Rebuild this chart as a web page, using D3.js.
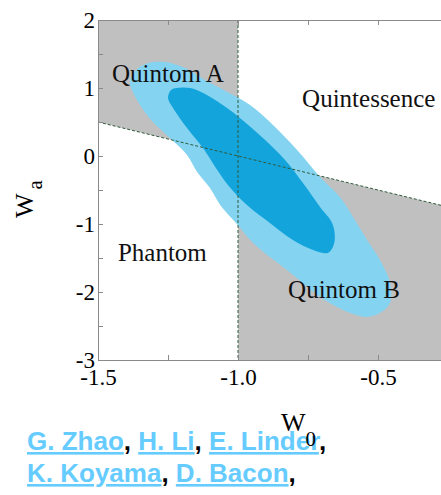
<!DOCTYPE html>
<html>
<head>
<meta charset="utf-8">
<script src="https://cdn.jsdelivr.net/npm/d3@7"></script>
<style>
  html, body { margin: 0; padding: 0; background: #fff; }
  svg { display: block; }
</style>
</head>
<body>
<svg id="chart" width="441" height="495"></svg>
<script>
// Axis ranges (w0 horizontal, wa vertical)
const w0Domain = [-1.5, -0.2];
const waDomain = [-3, 2];
const w0Ticks = [-1.5, -1.25, -1.0, -0.75, -0.5, -0.25];
const w0Labels = [-1.5, -1.0, -0.5];
const waTicks = [-3, -2.5, -2, -1.5, -1, -0.5, 0, 0.5, 1, 1.5, 2];
const waLabels = [-3, -2, -1, 0, 1, 2];

// 95% confidence contour (w0, wa)
const outer95 = [
  [-1.386, 1.088], [-1.364, 1.265], [-1.321, 1.368], [-1.261, 1.382],
  [-1.189, 1.294], [-1.118, 1.118], [-1.018, 0.897], [-0.957, 0.750],
  [-0.886, 0.500], [-0.789, 0.088], [-0.707, -0.309], [-0.636, -0.603],
  [-0.589, -0.897], [-0.539, -1.235], [-0.493, -1.529], [-0.457, -1.868],
  [-0.457, -2.162], [-0.493, -2.309], [-0.539, -2.368], [-0.589, -2.324],
  [-0.646, -2.221], [-0.707, -2.074], [-0.768, -1.868], [-0.825, -1.676],
  [-0.886, -1.485], [-0.946, -1.279], [-1.004, -1.000], [-1.061, -0.735],
  [-1.100, -0.471], [-1.146, -0.235], [-1.182, 0.015], [-1.243, 0.265],
  [-1.304, 0.500], [-1.350, 0.750]
];

// 68% confidence contour (w0, wa)
const inner68 = [
  [-1.250, 0.853], [-1.239, 0.971], [-1.218, 1.000], [-1.171, 1.000],
  [-1.111, 0.897], [-1.039, 0.706], [-0.993, 0.559], [-0.911, 0.265],
  [-0.832, -0.059], [-0.768, -0.397], [-0.707, -0.750], [-0.664, -0.985],
  [-0.654, -1.191], [-0.661, -1.338], [-0.679, -1.426], [-0.732, -1.382],
  [-0.804, -1.235], [-0.886, -0.985], [-0.968, -0.721], [-1.036, -0.426],
  [-1.079, -0.176], [-1.125, 0.118], [-1.182, 0.412], [-1.232, 0.706]
];

// Region names and their anchor points (w0, wa)
const regionNames = ["Quintom A", "Quintessence", "Phantom", "Quintom B"];
const regionAnchors = [[-1.45, 1.088], [-0.771, 0.72], [-1.429, -1.544], [-0.821, -2.088]];

// Author credits
const authorLines = [
  ["G. Zhao", "H. Li", "E. Linder"],
  ["K. Koyama", "D. Bacon"]
];

const svg = d3.select("#chart");
const x = d3.scaleLinear().domain(w0Domain).range([98, 98 + 1.3 * 280]);
const y = d3.scaleLinear().domain(waDomain).range([360, 20]);

// Phantom-divide crossing line: w0 + wa = -1
const divide = w => -1 - w;

// Author credits (drawn first so the axis label sits above them)
const credits = svg.append("g")
  .attr("font-family", "'Liberation Sans', Arial, sans-serif")
  .attr("font-weight", "bold")
  .attr("font-size", 26);
authorLines.forEach((names, i) => {
  const t = credits.append("text").attr("x", 27).attr("y", 450 + i * 32);
  names.forEach((n) => {
    t.append("tspan").attr("fill", "#66ccff").attr("text-decoration", "underline").text(n);
    t.append("tspan").attr("fill", "#000").text(",");
    t.append("tspan").text(" ");
  });
});

const plot = svg.append("g");
plot.append("clipPath").attr("id", "clip")
  .append("rect").attr("x", x(w0Domain[0])).attr("y", y(waDomain[1]))
  .attr("width", x(w0Domain[1]) - x(w0Domain[0])).attr("height", y(waDomain[0]) - y(waDomain[1]));

const area = plot.append("g").attr("clip-path", "url(#clip)");
const poly = d3.line().x(d => x(d[0])).y(d => y(d[1]));

// Quintom A: w0 < -1 with wa above the divide
const quintomA = [[w0Domain[0], waDomain[1]], [-1, waDomain[1]], [-1, divide(-1)], [w0Domain[0], divide(w0Domain[0])]];
// Quintom B: w0 > -1 with wa below the divide
const quintomB = [[-1, divide(-1)], [-1, waDomain[0]], [w0Domain[1], waDomain[0]], [w0Domain[1], divide(w0Domain[1])]];
[quintomA, quintomB].forEach(p => area.append("path").attr("d", poly(p) + "Z").attr("fill", "#c0c0c0"));

// Confidence contours
const contour = d3.line().x(d => x(d[0])).y(d => y(d[1])).curve(d3.curveCatmullRomClosed.alpha(0.5));
area.append("path").attr("d", contour(outer95)).attr("fill", "#84d3f1");
area.append("path").attr("d", contour(inner68)).attr("fill", "#14a4dc");

// Dashed boundaries
area.append("line")
  .attr("x1", x(-1)).attr("x2", x(-1)).attr("y1", y(waDomain[1])).attr("y2", y(waDomain[0]))
  .attr("stroke", "#2f5a3c").attr("stroke-width", 1).attr("stroke-dasharray", "3,2");
area.append("line")
  .attr("x1", x(w0Domain[0])).attr("y1", y(divide(w0Domain[0])))
  .attr("x2", x(w0Domain[1])).attr("y2", y(divide(w0Domain[1])))
  .attr("stroke", "#2f5a3c").attr("stroke-width", 1).attr("stroke-dasharray", "3,2");

// Axes
const serif = "'Liberation Serif', 'Times New Roman', serif";
const styleAxis = g => {
  g.attr("font-family", serif);
  g.select(".domain").attr("stroke", "#8a8a8a");
  g.selectAll(".tick line").attr("stroke", "#8a8a8a");
  g.selectAll("text").attr("font-family", serif).attr("font-size", 23).attr("fill", "#000");
};
plot.append("g").attr("transform", `translate(0,${y(waDomain[0])})`)
  .call(d3.axisBottom(x).tickValues(w0Ticks).tickSize(-5).tickSizeOuter(0).tickPadding(9)
    .tickFormat(d => w0Labels.includes(d) ? d.toFixed(1) : ""))
  .call(styleAxis);
plot.append("g").attr("transform", `translate(0,${y(waDomain[1])})`)
  .call(d3.axisTop(x).tickValues(w0Ticks).tickSize(-5).tickSizeOuter(0).tickFormat(""))
  .call(styleAxis);
plot.append("g").attr("transform", `translate(${x(w0Domain[0])},0)`)
  .call(d3.axisLeft(y).tickValues(waTicks).tickSize(-5).tickSizeOuter(0).tickPadding(3)
    .tickFormat(d => waLabels.includes(d) ? String(d) : ""))
  .call(styleAxis);

// Region names
plot.append("g").attr("font-family", serif).attr("font-size", 25).attr("fill", "#111")
  .selectAll("text").data(regionNames).join("text")
  .attr("x", (d, i) => x(regionAnchors[i][0]))
  .attr("y", (d, i) => y(regionAnchors[i][1]))
  .text(d => d);

// Axis titles
const xt = svg.append("text").attr("x", 281).attr("y", 431)
  .attr("font-family", serif).attr("font-size", 26).attr("fill", "#000");
xt.append("tspan").text("W");
xt.append("tspan").attr("dy", 15).attr("font-size", 21).text("0");

const yt = svg.append("text").attr("transform", "translate(33,218) rotate(-90)")
  .attr("font-family", serif).attr("font-size", 26).attr("fill", "#000");
yt.append("tspan").text("W");
yt.append("tspan").attr("dx", 4).attr("dy", 9).attr("font-size", 21).text("a");
</script>
</body>
</html>
